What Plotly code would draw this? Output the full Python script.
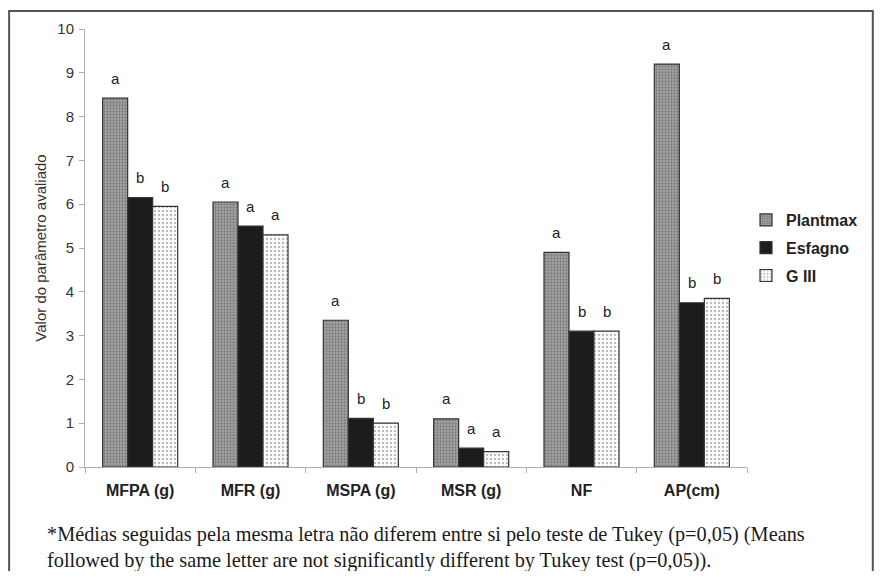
import plotly.graph_objects as go

categories = ["MFPA (g)", "MFR (g)", "MSPA (g)", "MSR (g)", "NF", "AP(cm)"]
series_names = ["Plantmax", "Esfagno", "G III"]
plantmax = [8.42, 6.05, 3.35, 1.10, 4.90, 9.20]
esfagno = [6.15, 5.50, 1.11, 0.43, 3.10, 3.75]
g3 = [5.95, 5.30, 1.00, 0.35, 3.10, 3.85]
letters_plantmax = ["a", "a", "a", "a", "a", "a"]
letters_esfagno = ["b", "a", "b", "a", "b", "b"]
letters_g3 = ["b", "a", "b", "a", "b", "b"]
y_ticks = [0, 1, 2, 3, 4, 5, 6, 7, 8, 9, 10]
y_title = "Valor do parâmetro avaliado"
footnote = ("*Médias seguidas pela mesma letra não diferem entre si pelo teste de Tukey (p=0,05) (Means<br>"
            "followed by the same letter are not significantly different by Tukey test (p=0,05)).")

values = [plantmax, esfagno, g3]
letters = [letters_plantmax, letters_esfagno, letters_g3]

styles = [
    dict(color="#9a9a9a", pattern=dict(shape=".", fgcolor="#505050", bgcolor="#a6a6a6", size=3, solidity=0.45)),
    dict(color="#1c1c1c"),
    dict(color="#ffffff", pattern=dict(shape=".", fgcolor="#7a7a7a", bgcolor="#ffffff", size=4, solidity=0.3)),
]

# page body has an 8px margin; keep figure small enough to avoid scrollbars
W, H = 867, 563
L, R, T, B = 77, 127, 19, 104
pw = W - L - R
ph = H - T - B

fig = go.Figure()
for i, name in enumerate(series_names):
    fig.add_trace(go.Bar(
        x=categories, y=values[i], name=name, legendgroup=name,
        marker=dict(line=dict(color="#333333", width=1.2), **styles[i]),
    ))

bargap = 0.32
bw = (1 - bargap) / 3
offsets = [-bw, 0, bw]
annotations = []
for i in range(3):
    for j, cat in enumerate(categories):
        annotations.append(dict(
            x=j + offsets[i], y=values[i][j], xref="x", yref="y",
            text=letters[i][j], showarrow=False, yshift=20,
            font=dict(family="Liberation Sans, Arial", size=15, color="#222222"),
        ))

annotations.append(dict(
    x=(37 - L) / pw, y=(ph - (513 - T)) / ph, xref="paper", yref="paper",
    xanchor="left", yanchor="top", align="left", showarrow=False,
    text=footnote,
    font=dict(family="Liberation Serif, Times New Roman", size=20.3, color="#1a1a1a"),
))

fig.update_layout(
    width=W, height=H,
    margin=dict(l=L, r=R, t=T, b=B),
    paper_bgcolor="white", plot_bgcolor="white",
    barmode="group", bargap=bargap, bargroupgap=0,
    showlegend=True,
    legend=dict(x=0.9985, y=0.5, xanchor="left", yanchor="middle",
                font=dict(family="Liberation Sans, Arial", size=16, color="#222222", weight="bold"),
                tracegroupgap=4, bgcolor="rgba(0,0,0,0)", itemwidth=30),
    annotations=annotations,
    shapes=[dict(type="rect", xref="paper", yref="paper",
                 x0=(1 - L) / pw, x1=(866 - L) / pw,
                 y0=(ph - (640 - T)) / ph, y1=(ph - (1 - T)) / ph,
                 line=dict(color="#555555", width=2), fillcolor="rgba(0,0,0,0)")],
)
fig.update_xaxes(
    showline=True, linecolor="#b0b0b0", linewidth=1,
    ticks="outside", ticklen=5, tickcolor="#b0b0b0", tickson="boundaries",
    ticklabelstandoff=9,
    tickfont=dict(family="Liberation Sans, Arial", size=16, color="#222222", weight="bold"),
    showgrid=False,
)
fig.update_yaxes(
    range=[0, 10], tickvals=y_ticks, showline=True, linecolor="#b0b0b0", linewidth=1,
    ticks="outside", ticklen=5, tickcolor="#b0b0b0", showgrid=False, zeroline=False,
    ticklabelstandoff=2,
    tickfont=dict(family="Liberation Sans, Arial", size=15, color="#333333"),
    title=dict(text=y_title, font=dict(family="Liberation Sans, Arial", size=15, color="#333333"), standoff=7),
)
fig.write_html("out.html")
